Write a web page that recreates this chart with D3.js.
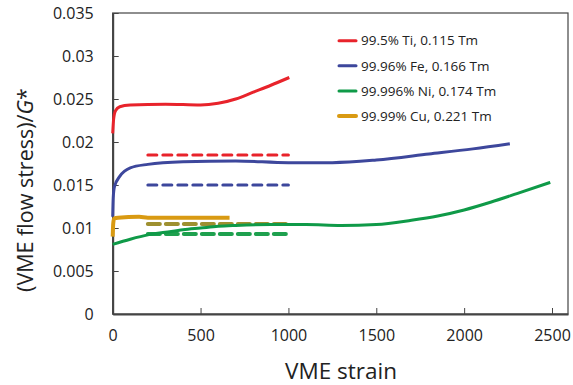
<!DOCTYPE html>
<html><head><meta charset="utf-8">
<script src="https://cdn.jsdelivr.net/npm/d3@7"></script>
<style>body{margin:0;background:#fff}svg{display:block}text{font-family:"Open Sans",sans-serif;fill:#222}</style>
</head><body>
<script>
// ---- data ----
const seriesNames = ["99.5% Ti, 0.115 Tm","99.96% Fe, 0.166 Tm","99.996% Ni, 0.174 Tm","99.99% Cu, 0.221 Tm"];
const tiStrain = [0,5,15,40,100,300,500,600,700,800,900,1005];
const tiStress = [0.0210,0.0226,0.0236,0.0241,0.0243,0.0244,0.0243,0.0245,0.0250,0.0258,0.0266,0.0275];
const feStrain = [0,3,10,40,100,200,400,700,1000,1250,1500,1800,2050,2260];
const feStress = [0.0113,0.0135,0.0148,0.0160,0.0170,0.0174,0.0177,0.0178,0.0176,0.0176,0.0179,0.0186,0.0192,0.0198];
const niStrain = [0,100,200,300,400,500,600,700,900,1100,1300,1500,1700,1850,2000,2150,2300,2490];
const niStress = [0.0081,0.0087,0.0092,0.0095,0.0098,0.0100,0.0102,0.0103,0.0104,0.0104,0.0103,0.0104,0.0109,0.0114,0.0121,0.0130,0.0140,0.0153];
const cuStrain = [0,3,8,30,150,200,400,665];
const cuStress = [0.0090,0.0105,0.0111,0.0112,0.0113,0.0112,0.0112,0.0112];
const refStrain = [200,1000];
const refTi = 0.0185, refFe = 0.0150, refCu = 0.01047, refNi = 0.0093;
const xTicks = [0,500,1000,1500,2000,2500];
const yTicks = [0,0.005,0.01,0.015,0.02,0.025,0.03,0.035];
const colors = ["#e8232b","#3d479c","#0f9a48","#d99a12"];
const refColors = ["#e8232b","#3d479c","#1ea04e","#9e9030"];

// ---- layout ----
const W=573,H=385;
const svg=d3.select("body").append("svg").attr("width",W).attr("height",H);
const x=d3.scaleLinear().domain([0,2591]).range([112.7,568]);
const y=d3.scaleLinear().domain([0,0.035]).range([314,13]);

// frame
svg.append("rect").attr("x",x(0)).attr("y",y(0.035)).attr("width",x(2591)-x(0)).attr("height",y(0)-y(0.035))
  .attr("fill","none").attr("stroke","#444").attr("stroke-width",1.2);

const gx=svg.append("g").attr("transform",`translate(0,${y(0)})`)
  .call(d3.axisBottom(x).tickValues(xTicks).tickFormat(d3.format("d")).tickSizeInner(-6).tickSizeOuter(0).tickPadding(16));
const gy=svg.append("g").attr("transform",`translate(${x(0)},0)`)
  .call(d3.axisLeft(y).tickValues(yTicks).tickFormat(d=>d===0?"0":String(+d.toFixed(3))).tickSizeInner(-6).tickSizeOuter(0).tickPadding(19));
[gx,gy].forEach(g=>{
  g.select(".domain").attr("stroke","#444").attr("stroke-width",2);
  g.selectAll(".tick line").attr("stroke","#444").attr("stroke-width",1);
  g.selectAll(".tick text").attr("font-size",16).attr("font-family","'Open Sans',sans-serif").attr("fill","#222");
});

// reference dashed lines
const refs=[[refTi,refColors[0],3,"9,6"],[refFe,refColors[1],3,"9,6"],[refCu,refColors[3],4,"12,6"],[refNi,refColors[2],4,"12,6"]];
refs.forEach(r=>{
  svg.append("line").attr("x1",x(refStrain[0])).attr("x2",x(refStrain[1]))
    .attr("y1",y(r[0])).attr("y2",y(r[0])).attr("stroke",r[1]).attr("stroke-width",r[2])
    .attr("stroke-dasharray",r[3]).attr("stroke-linecap","round");
});

// curves
const line=d3.line().x(d=>x(d[0])).y(d=>y(d[1])).curve(d3.curveMonotoneX);
const curves=[[niStrain,niStress,colors[2],3],[feStrain,feStress,colors[1],3],[tiStrain,tiStress,colors[0],3],[cuStrain,cuStress,colors[3],4]];
curves.forEach(c=>{
  svg.append("path").datum(c[0].map((s,i)=>[s,c[1][i]])).attr("d",line)
    .attr("fill","none").attr("stroke",c[2]).attr("stroke-width",c[3]).attr("stroke-linejoin","round");
});

// legend
const lg=svg.append("g");
seriesNames.forEach((n,i)=>{
  const yy=40.7+i*25.1;
  lg.append("line").attr("x1",339).attr("x2",356).attr("y1",yy).attr("y2",yy)
    .attr("stroke",colors[i]).attr("stroke-width",i===3?4:3).attr("stroke-linecap","round");
  lg.append("text").attr("x",361).attr("y",yy).attr("dy","0.35em").attr("font-size",13.5).text(n);
});

// axis titles
svg.append("text").attr("x",341).attr("y",379).attr("text-anchor","middle").attr("font-size",22.5).text("VME strain");
const yt=svg.append("text").attr("transform","translate(33,190) rotate(-90)").attr("text-anchor","middle").attr("font-size",21.5);
yt.append("tspan").text("(VME flow stress)/");
yt.append("tspan").attr("font-style","italic").text("G");
yt.append("tspan").text("*");
</script>
</body></html>
